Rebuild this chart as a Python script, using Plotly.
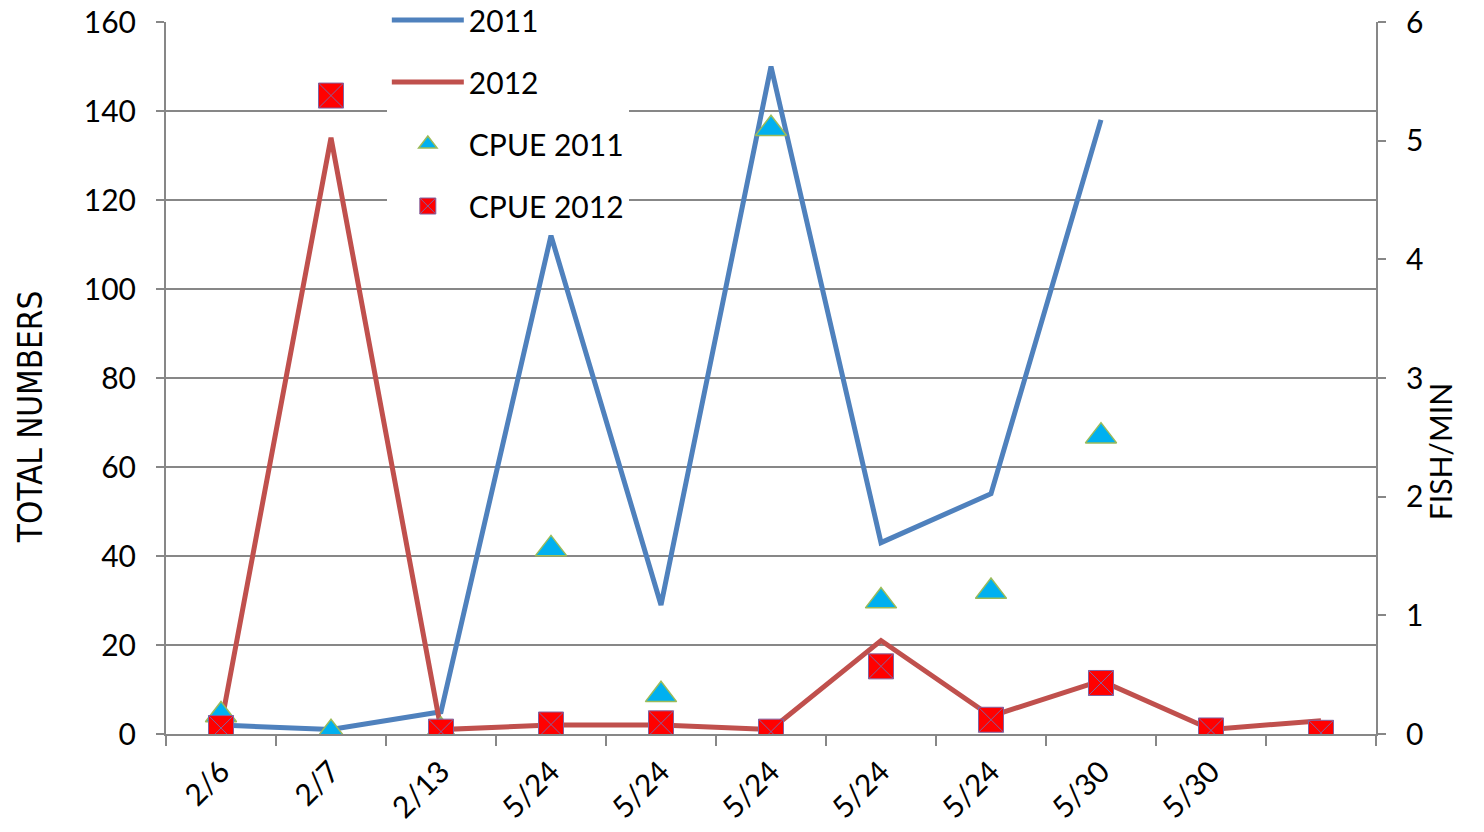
import plotly.graph_objects as go

dates = ["2/6", "2/7", "2/13", "5/24", "5/24", "5/24", "5/24", "5/24", "5/30", "5/30", ""]
total_2011 = [2, 1, 5, 112, 29, 150, 43, 54, 138, None, None]
total_2012 = [2, 134, 1, 2, 2, 1, 21, 4, 12, 1, 3]
cpue_2011 = [0.16, 0.01, 0.03, 1.56, 0.33, 5.1, 1.12, 1.2, 2.51, None, None]
cpue_2012 = [0.05, 5.38, 0.02, 0.08, 0.09, 0.02, 0.57, 0.12, 0.43, 0.03, 0.01]

x = list(range(len(dates)))
font = "Lato, 'Open Sans', sans-serif"
grey = "#878787"

fig = go.Figure()

fig.add_trace(go.Scatter(
    x=x, y=total_2011, mode="lines", name="2011", legendgroup="a",
    line={"color": "#4F81BD", "width": 5},
))
fig.add_trace(go.Scatter(
    x=x, y=total_2012, mode="lines", name="2012", legendgroup="b",
    line={"color": "#C0504D", "width": 5},
))
fig.add_trace(go.Scatter(
    x=x, y=cpue_2011, mode="markers", name="CPUE 2011", legendgroup="c",
    yaxis="y2",
    marker={"symbol": "triangle-up", "size": 27, "color": "#00B0F0",
            "line": {"color": "#9BBB59", "width": 1.5}},
))
fig.add_trace(go.Scatter(
    x=x, y=cpue_2012, mode="markers", name="CPUE 2012", legendgroup="d",
    yaxis="y2",
    marker={"symbol": "square-x", "size": 25, "color": "#FF0000",
            "line": {"color": "#8064A2", "width": 1}},
))

fig.update_layout(
    width=1484,
    height=832,
    margin={"l": 166, "r": 108, "t": 22, "b": 98, "autoexpand": False},
    paper_bgcolor="white",
    plot_bgcolor="white",
    font={"family": font, "size": 30, "color": "black"},
    showlegend=True,
    legend={
        "x": 0.1825, "y": 1.0393, "xanchor": "left", "yanchor": "top",
        "bgcolor": "white", "font": {"size": 30},
        "tracegroupgap": 20, "itemwidth": 72,
    },
    xaxis={
        "range": [-0.5, 10.5],
        "tickmode": "array",
        "tickvals": x,
        "ticktext": dates,
        "tickangle": -45,
        "ticks": "",
        "showgrid": False,
        "showline": True,
        "linecolor": grey,
        "linewidth": 2,
        "zeroline": False,
        "ticklabelstandoff": 6,
        "minor": {
            "tickvals": [i - 0.5 for i in range(len(dates) + 1)],
            "ticks": "outside", "ticklen": 10, "tickcolor": grey,
            "tickwidth": 2, "showgrid": False,
        },
    },
    yaxis={
        "range": [0, 160],
        "dtick": 20,
        "ticks": "outside",
        "ticklen": 8,
        "tickcolor": grey,
        "tickwidth": 2,
        "showline": True,
        "linecolor": grey,
        "linewidth": 2,
        "gridcolor": grey,
        "gridwidth": 2,
        "zeroline": False,
        "ticklabelstandoff": 14,
        "ticklabeloverflow": "allow",
    },
    yaxis2={
        "range": [0, 6],
        "dtick": 1,
        "overlaying": "y",
        "side": "right",
        "ticks": "outside",
        "ticklen": 8,
        "tickcolor": grey,
        "tickwidth": 2,
        "showline": True,
        "linecolor": grey,
        "linewidth": 2,
        "showgrid": False,
        "zeroline": False,
        "ticklabelstandoff": 14,
        "ticklabeloverflow": "allow",
    },
    annotations=[
        {"text": "TOTAL NUMBERS", "xref": "paper", "yref": "paper",
         "x": -0.1124, "y": 0.445, "xanchor": "center", "yanchor": "middle",
         "textangle": -90, "showarrow": False,
         "font": {"size": 33, "family": "'Liberation Sans Narrow', 'DejaVu Sans Condensed', Lato"}},
        {"text": "FISH/MIN", "xref": "paper", "yref": "paper",
         "x": 1.053, "y": 0.396, "xanchor": "center", "yanchor": "middle",
         "textangle": -90, "showarrow": False,
         "font": {"size": 30}},
    ],
)

# drop the default 8px page margin so the figure sits at the window corner
fig.write_html(
    "out.html",
    config={"displayModeBar": False},
    post_script="document.body.style.margin='0px';",
)
